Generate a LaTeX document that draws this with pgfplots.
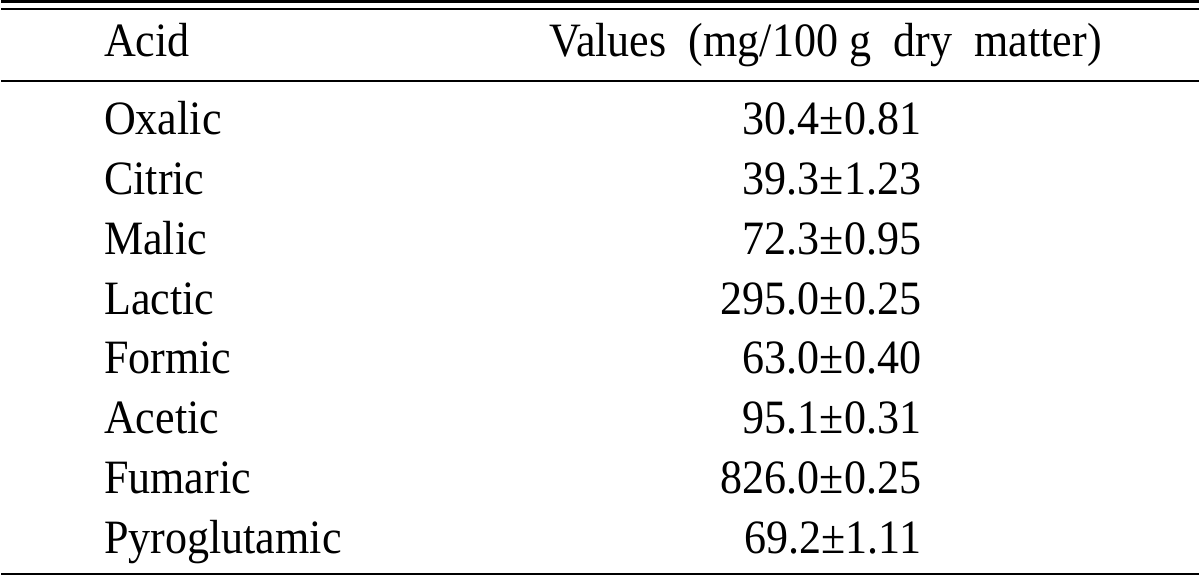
\documentclass[border=0pt]{standalone}
\usepackage{fontspec}
\setmainfont{Liberation Serif}[FakeStretch=0.92]
\usepackage{pgfplots}
\pgfplotsset{compat=1.18}
\begin{document}
\begin{tikzpicture}[every node/.style={font=\fontsize{24}{28}\selectfont, inner sep=0pt, outer sep=0pt}]
\begin{axis}[
  width=600pt, height=289pt, scale only axis,
  xmin=0, xmax=1200, ymin=0, ymax=578, y dir=reverse,
  hide axis, clip=false]
% rules
\addplot[black, line width=1.3pt, mark=none] coordinates {(0,1.5) (1200,1.5)};
\addplot[black, line width=1.2pt, mark=none] coordinates {(0,9.5) (1200,9.5)};
\addplot[black, line width=1.1pt, mark=none] coordinates {(0,81) (1200,81)};
\addplot[black, line width=1.4pt, mark=none] coordinates {(0,575.5) (1200,575.5)};
% header
\node[anchor=base west] at (axis cs:103,57) {Acid};
\node[anchor=base west] at (axis cs:549,57) {\makebox[277pt]{Values\hfill(mg/100~g\hfill dry\hfill matter)}};
% rows
\node[anchor=base west] at (axis cs:103,135) {Oxalic};
\node[anchor=base east] at (axis cs:922,135) {30.4±0.81};
\node[anchor=base west] at (axis cs:103,195) {Citric};
\node[anchor=base east] at (axis cs:922,195) {39.3±1.23};
\node[anchor=base west] at (axis cs:103,255) {Malic};
\node[anchor=base east] at (axis cs:922,255) {72.3±0.95};
\node[anchor=base west] at (axis cs:103,315) {Lactic};
\node[anchor=base east] at (axis cs:922,315) {295.0±0.25};
\node[anchor=base west] at (axis cs:103,375) {Formic};
\node[anchor=base east] at (axis cs:922,375) {63.0±0.40};
\node[anchor=base west] at (axis cs:103,435) {Acetic};
\node[anchor=base east] at (axis cs:922,435) {95.1±0.31};
\node[anchor=base west] at (axis cs:103,495) {Fumaric};
\node[anchor=base east] at (axis cs:922,495) {826.0±0.25};
\node[anchor=base west] at (axis cs:103,555) {Pyroglutamic};
\node[anchor=base east] at (axis cs:922,555) {69.2±1.11};
\end{axis}
\end{tikzpicture}
\end{document}
